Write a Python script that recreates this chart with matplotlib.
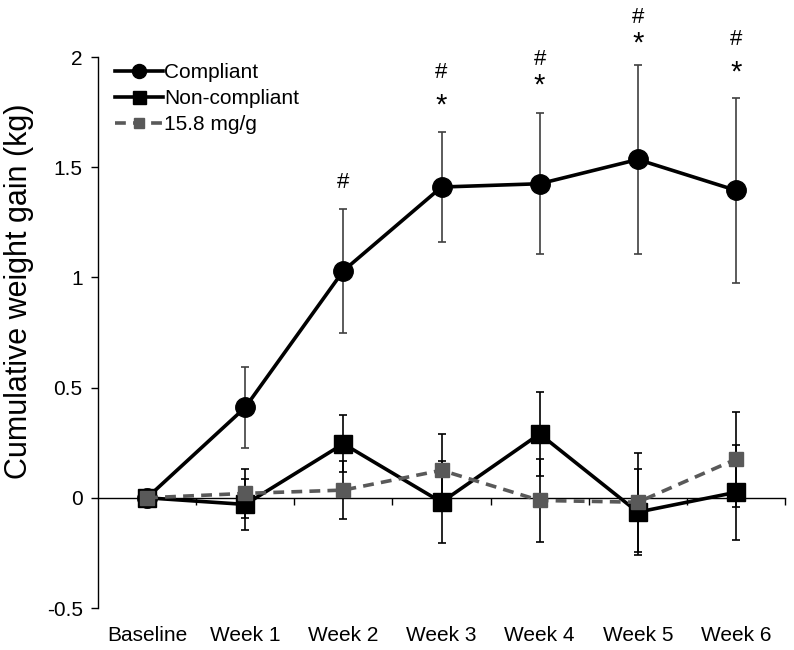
import matplotlib
matplotlib.use("Agg")
import matplotlib.pyplot as plt

plt.rcParams["font.family"] = ["Liberation Sans", "DejaVu Sans"]

categories = ["Baseline", "Week 1", "Week 2", "Week 3", "Week 4", "Week 5", "Week 6"]

compliant = [0, 0.41, 1.03, 1.41, 1.425, 1.535, 1.395]
compliant_err = [0, 0.185, 0.28, 0.25, 0.32, 0.43, 0.42]

noncompliant = [0, -0.03, 0.245, -0.02, 0.29, -0.065, 0.025]
noncompliant_err = [0, 0.115, 0.13, 0.185, 0.19, 0.195, 0.215]

dose = [0, 0.02, 0.035, 0.125, -0.012, -0.02, 0.175]
dose_err = [0, 0.11, 0.13, 0.165, 0.19, 0.225, 0.215]

# significance marks: (category index, symbol, y position)
marks = [(2, "#", 1.43),
         (3, "#", 1.93), (3, "*", 1.78),
         (4, "#", 1.99), (4, "*", 1.87),
         (5, "#", 2.18), (5, "*", 2.06),
         (6, "#", 2.08), (6, "*", 1.93)]

x = list(range(len(categories)))

fig = plt.figure(figsize=(7.94, 6.5), dpi=100)
ax = fig.add_axes([0.1234, 0.0646, 0.8653, 0.8477])

ax.errorbar(x, compliant, yerr=compliant_err, fmt="none", ecolor="#404040",
            elinewidth=1.2, capsize=2.6, capthick=1.2, zorder=2)
ax.errorbar(x, noncompliant, yerr=noncompliant_err, fmt="none", ecolor="black",
            elinewidth=1.2, capsize=2.6, capthick=1.2, zorder=2)
ax.errorbar(x, dose, yerr=dose_err, fmt="none", ecolor="black",
            elinewidth=1.2, capsize=2.6, capthick=1.2, zorder=2)

ax.plot(x, compliant, color="black", lw=2.6, marker="o", ms=14, label="Compliant", zorder=4)
ax.plot(x, noncompliant, color="black", lw=2.6, marker="s", ms=13, label="Non-compliant", zorder=3)
ax.plot(x, dose, color="#595959", lw=2.6, ls=(0, (3, 2)), marker="s", ms=9.5,
        label="15.8 mg/g", zorder=5)

for i, sym, yv in marks:
    ax.text(i, yv, sym, ha="center", va="center", fontsize=21 if sym == "*" else 16,
            clip_on=False)

ax.set_xlim(-0.5, 6.5)
ax.set_ylim(-0.5, 2)

for s in ["top", "right"]:
    ax.spines[s].set_visible(False)
ax.spines["bottom"].set_position(("data", 0))
ax.spines["bottom"].set_linewidth(1.0)
ax.spines["left"].set_linewidth(1.0)

ax.set_xticks(x)
ax.set_xticklabels(categories, fontsize=15)
ax.set_xticks([i + 0.5 for i in x], minor=True)
ax.tick_params(axis="x", which="major", length=0, pad=92)
ax.tick_params(axis="x", which="minor", length=5, width=1.0, direction="out")

yt = [-0.5, 0, 0.5, 1, 1.5, 2]
ax.set_yticks(yt)
ax.set_yticklabels(["-0.5", "0", "0.5", "1", "1.5", "2"], fontsize=15)
ax.tick_params(axis="y", length=5, width=1.0, direction="out", pad=6)

ax.set_ylabel("Cumulative weight gain (kg)", fontsize=22)
ax.yaxis.set_label_coords(-0.093, 0.575)

leg = ax.legend(loc="upper left", bbox_to_anchor=(0.007, 1.012), frameon=False, fontsize=15,
                handlelength=2.3, handletextpad=0.05, labelspacing=0.35, borderaxespad=0.2,
                markerscale=0.72)

fig.savefig("out.png", dpi=100)
